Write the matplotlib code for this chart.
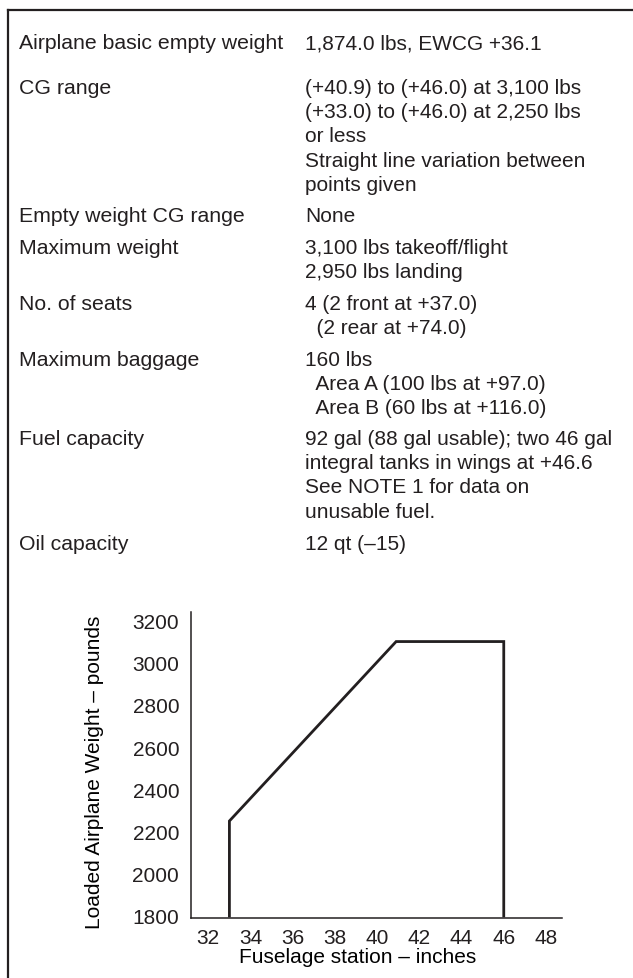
import matplotlib
matplotlib.use("Agg")
import matplotlib.pyplot as plt
from matplotlib.lines import Line2D

# spec sheet rows: label, value lines
spec_labels = ["Airplane basic empty weight", "CG range", "Empty weight CG range",
               "Maximum weight", "No. of seats", "Maximum baggage",
               "Fuel capacity", "Oil capacity"]
spec_values = [
    ["1,874.0 lbs, EWCG +36.1"],
    ["(+40.9) to (+46.0) at 3,100 lbs", "(+33.0) to (+46.0) at 2,250 lbs",
     "or less", "Straight line variation between", "points given"],
    ["None"],
    ["3,100 lbs takeoff/flight", "2,950 lbs landing"],
    ["4 (2 front at +37.0)", "  (2 rear at +74.0)"],
    ["160 lbs", "  Area A (100 lbs at +97.0)", "  Area B (60 lbs at +116.0)"],
    ["92 gal (88 gal usable); two 46 gal", "integral tanks in wings at +46.6",
     "See NOTE 1 for data on", "unusable fuel."],
    ["12 qt (\u201315)"],
]

# CG envelope (fuselage station, loaded weight)
cg_in = [33.0, 33.0, 40.9, 46.0, 46.0]
weight_lb = [1800, 2250, 3100, 3100, 1800]
x_ticks = [32, 34, 36, 38, 40, 42, 44, 46, 48]
y_ticks = [1800, 2000, 2200, 2400, 2600, 2800, 3000, 3200]

ink = "#231f20"
plt.rcParams['font.family'] = ['Liberation Sans', 'DejaVu Sans']
plt.rcParams['text.color'] = ink

W, H = 633, 979
fig = plt.figure(figsize=(W / 100, H / 100), dpi=100)

# frame round the sheet (runs off the right and bottom edge)
fig.add_artist(Line2D([8 / W, 8 / W], [1 - 11 / H, -0.05], color=ink, lw=1.6))
fig.add_artist(Line2D([8 / W, 1.05], [1 - 11 / H, 1 - 11 / H], color=ink, lw=1.6))

# text table
row_y = [42, 87, 215, 247, 303, 359, 438, 543]
line_step = 24.2
for lab, vals, y0 in zip(spec_labels, spec_values, row_y):
    fig.text(19 / W, 1 - (y0 + 7) / H, lab, fontsize=15.3, va="baseline", ha="left")
    for i, v in enumerate(vals):
        yy = y0 + i * line_step + 7
        fig.text(305 / W, 1 - yy / H, v, fontsize=15, va="baseline", ha="left")

# chart
ax = fig.add_axes([191 / W, 1 - 919 / H, (562 - 191) / W, (919 - 613) / H])
ax.plot(cg_in, weight_lb, color=ink, lw=2.0, solid_joinstyle="miter")
ax.set_xlim(31.18, 48.76)
ax.set_ylim(1790.5, 3240)
ax.set_xticks(x_ticks)
ax.set_yticks(y_ticks)
ax.tick_params(length=0, labelsize=15, colors=ink)
ax.tick_params(axis="y", pad=8.5)
ax.tick_params(axis="x", pad=7)
for s in ["top", "right"]:
    ax.spines[s].set_visible(False)
for s in ["left", "bottom"]:
    ax.spines[s].set_color(ink)
    ax.spines[s].set_linewidth(1.1)

ax.set_xlabel("Fuselage station \u2013 inches", fontsize=15)
ax.set_ylabel("Loaded Airplane Weight \u2013 pounds", fontsize=15)
ax.xaxis.label.set_verticalalignment("center")
ax.yaxis.label.set_verticalalignment("center")
ax.xaxis.set_label_coords(0.45, -0.127)
ax.yaxis.set_label_coords(-0.259, 0.48)

fig.savefig("out.png", dpi=100)
